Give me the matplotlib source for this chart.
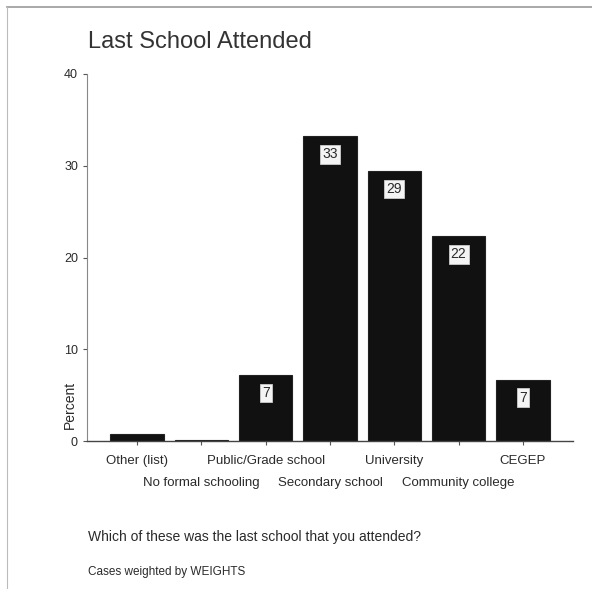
import matplotlib.pyplot as plt
from matplotlib import font_manager

# Categories and percentages
categories = ['Other (list)', 'No formal schooling', 'Public/Grade school',
              'Secondary school', 'University', 'Community college', 'CEGEP']
percent = [0.8, 0.1, 7.2, 33.2, 29.4, 22.3, 6.7]
shown = ['', '', '7', '33', '29', '22', '7']
yticks = [0, 10, 20, 30, 40]

names = {f.name for f in font_manager.fontManager.ttflist}
fam = ['Liberation Sans Narrow', 'Liberation Sans', 'DejaVu Sans']
fam = [f for f in fam if f in names or f == 'DejaVu Sans']
plt.rcParams['font.family'] = fam

txt = '#2a2a2a'
fig = plt.figure(figsize=(5.92, 5.89), dpi=100)
ax = fig.add_axes([87 / 592, 1 - 441 / 589, (573 - 87) / 592, (441 - 74) / 589])

x = range(len(categories))
bars = ax.bar(x, percent, width=0.83, color='#111111', edgecolor='#222222', linewidth=0.8)

# value boxes inside the top of each bar
for xi, v, s in zip(x, percent, shown):
    if s:
        ax.annotate(s, (xi, v), xytext=(0, -13), textcoords='offset points',
                    ha='center', va='center', fontsize=10, color=txt,
                    bbox=dict(boxstyle='square,pad=0.15', fc='#f4f4f4', ec='#cccccc', lw=0.6))

ax.set_xlim(-0.78, 6.78)
ax.set_ylim(0, 40)
ax.set_yticks(yticks)
ax.set_yticklabels([str(t) for t in yticks], fontsize=9, color=txt)
ax.set_xticks(list(x))
ax.set_xticklabels([])
ax.tick_params(axis='both', direction='out', length=3, width=0.8, color='#555555')

# staggered category labels
for i, c in enumerate(categories):
    dy = 2.2 if i % 2 == 0 else 4.6
    ax.text(i, -dy, c, ha='center', va='center', fontsize=9.5, color=txt)

for side in ['top', 'right']:
    ax.spines[side].set_visible(False)
ax.spines['left'].set_color('#888888')
ax.spines['bottom'].set_color('#444444')
ax.spines['left'].set_linewidth(0.8)
ax.spines['bottom'].set_linewidth(1.0)

fig.text(70 / 592, 1 - 405 / 589, 'Percent', rotation=90, ha='center', va='center',
         fontsize=10, color=txt)
fig.text(88 / 592, 1 - 42 / 589, 'Last School Attended', ha='left', va='center',
         fontsize=17, color='#333333')
fig.text(88 / 592, 1 - 537 / 589, 'Which of these was the last school that you attended?',
         ha='left', va='center', fontsize=10, color=txt)
fig.text(88 / 592, 1 - 572 / 589, 'Cases weighted by WEIGHTS',
         ha='left', va='center', fontsize=8.5, color=txt)

# frame lines at top and left
fig.add_artist(plt.Line2D([7 / 592, 1], [1 - 7 / 589, 1 - 7 / 589], color='#999999', lw=1.2))
fig.add_artist(plt.Line2D([7 / 592, 7 / 592], [0, 1 - 7 / 589], color='#bbbbbb', lw=0.8))

fig.savefig('out.png', dpi=100)
